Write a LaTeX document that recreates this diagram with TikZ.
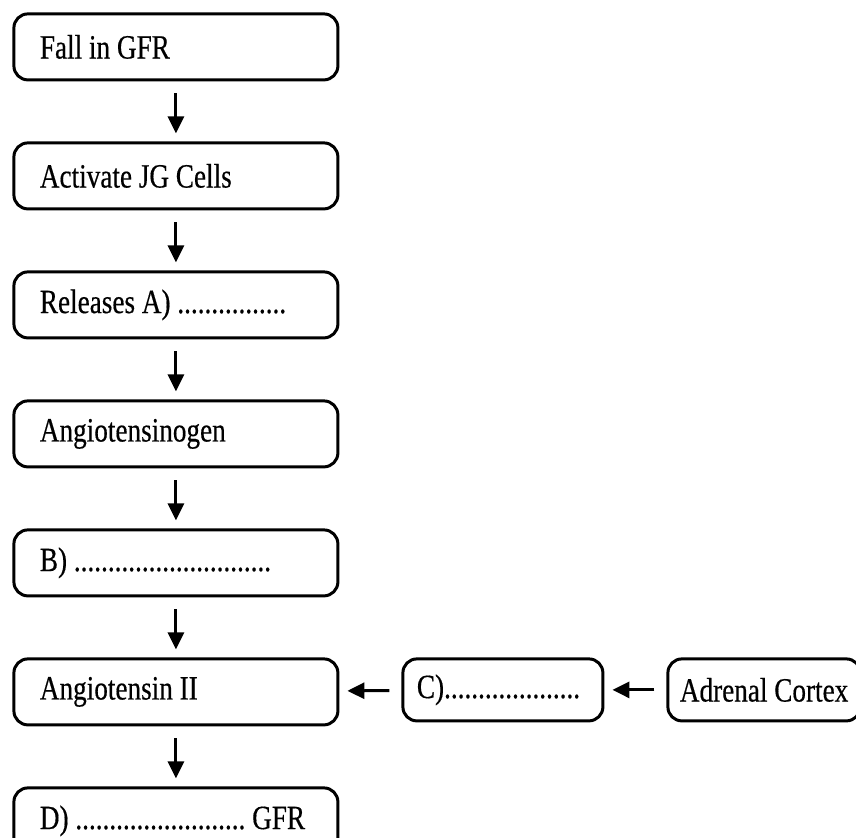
\documentclass[tikz,border=0pt]{standalone}
\usepackage{fontspec}
\setmainfont{Liberation Serif}[FakeStretch=0.8, FakeBold=0.4]
\usetikzlibrary{arrows.meta}

\begin{document}
\begin{tikzpicture} [
    x=0.5pt, y=0.5pt,
    block/.style  = { rectangle, draw=black, line width=1.5pt,
                      rounded corners=7pt, text width=136pt, align=left,
                      inner xsep=13pt, inner ysep=0pt, minimum height=33pt,
                      font=\fontsize{17}{20}\selectfont,
                      execute at begin node={\spaceskip=3.4pt\xspaceskip=3.4pt\relax} },
    blank/.style  = { block, text width=86pt, inner xsep=7pt,
                      minimum height=31pt },
    source/.style = { rectangle, draw=black, line width=1.5pt,
                      rounded corners=7pt, minimum width=96pt, align=center,
                      inner xsep=6pt, inner ysep=0pt, minimum height=31pt,
                      font=\fontsize{17}{20}\selectfont },
    line/.style   = { draw, line width=1.5pt,
                      -{Triangle[length=8.5pt,width=8pt]},
                      shorten >=4pt, shorten <=6pt },
  ]

\useasboundingbox (0,0) rectangle (856,-838);

\matrix [anchor=north west, inner sep=0pt, column sep=31pt, row sep=30pt] at (12,-12) {
    \node [block] (fall)   {Fall in GFR};                  & & \\
    \node [block] (jg)     {Activate JG Cells};            & & \\
    \node [block] (renin)  {Releases A) ................}; & & \\
    \node [block] (angio)  {Angiotensinogen};              & & \\
    \node [block] (angio1) {B) .............................}; & & \\
    \node [block] (angio2) {Angiotensin II};
  & \node [blank]  (ald)     {C)....................};
  & \node [source] (adrenal) {Adrenal Cortex}; \\
    \node [block] (gfr)    {\mbox{D) ......................... GFR}}; & & \\
};

\begin{scope} [every path/.style=line]
    \path (fall)    -- (jg);
    \path (jg)      -- (renin);
    \path (renin)   -- (angio);
    \path (angio)   -- (angio1);
    \path (angio1)  -- (angio2);
    \path (angio2)  -- (gfr);
    \path (ald)     -- (angio2);
    \path (adrenal) -- (ald);
\end{scope}

\end{tikzpicture}
\end{document}
